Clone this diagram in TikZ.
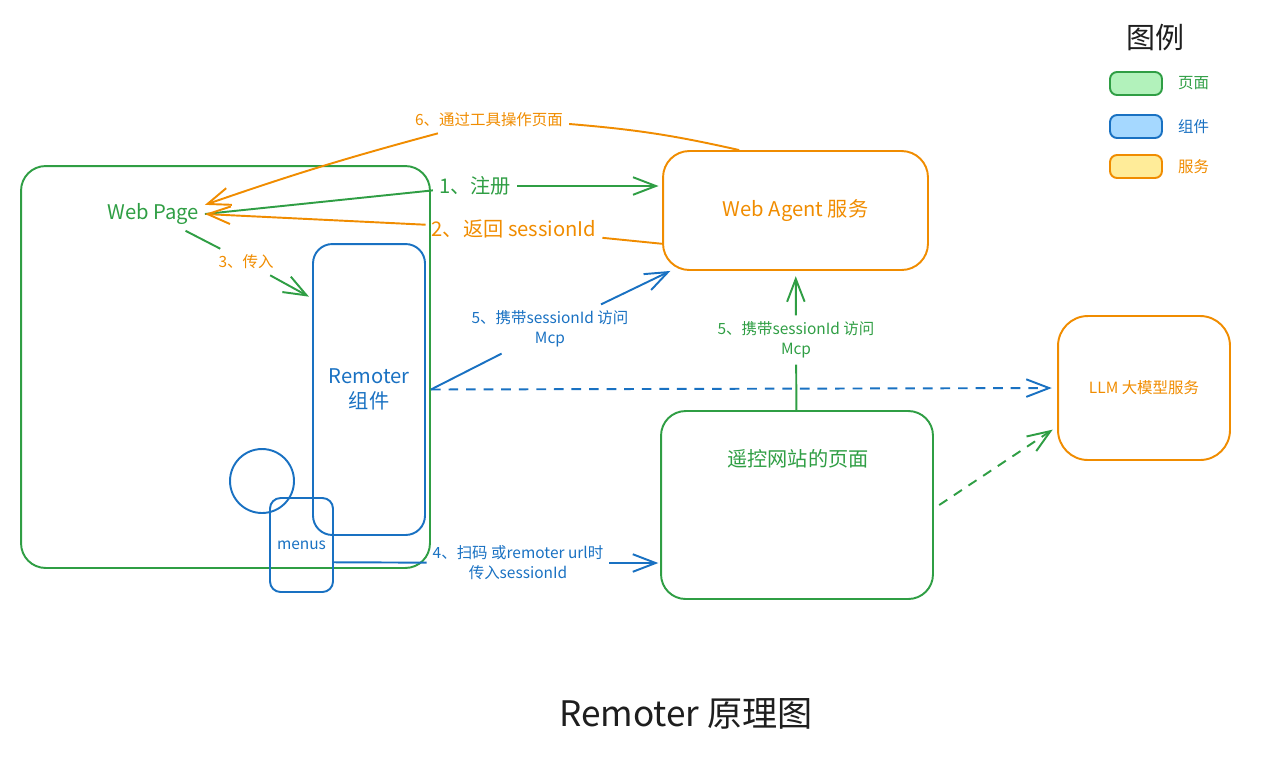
\documentclass[tikz,border=0pt]{standalone}
\usepackage{fontspec}
\setmainfont{Noto Sans CJK SC}
\usetikzlibrary{arrows.meta,positioning}
\definecolor{pgreen}{HTML}{2F9E44}
\definecolor{pblue}{HTML}{1971C2}
\definecolor{porange}{HTML}{F08C00}
\definecolor{pdark}{HTML}{1E1E1E}
\definecolor{lgreen}{HTML}{B2F2BB}
\definecolor{lblue}{HTML}{A5D8FF}
\definecolor{lorange}{HTML}{FFEC99}
\tikzset{
  page/.style={draw=pgreen, text=pgreen, line width=1.1pt, rounded corners=14pt},
  comp/.style={draw=pblue, text=pblue, line width=1.1pt, rounded corners=11pt},
  serv/.style={draw=porange, text=porange, line width=1.1pt, rounded corners=15pt},
  bigtxt/.style={font=\fontsize{11.5}{14}\selectfont},
  smalltxt/.style={font=\fontsize{8.8}{11.5}\selectfont},
  legbox/.style={rounded corners=4pt, minimum width=1.04cm, minimum height=0.46cm},
  glink/.style={draw=pgreen, line width=1.1pt},
  blink/.style={draw=pblue, line width=1.1pt},
  olink/.style={draw=porange, line width=1.1pt},
  arr/.style={-{Straight Barb[length=13pt,width=10pt]}},
  dashline/.style={dash pattern=on 5.5pt off 4.5pt}
}
\begin{document}
\begin{tikzpicture}[x=0.02cm,y=-0.02cm]
\useasboundingbox (0,0) rectangle (1263,765);
\node[page, minimum width=8.18cm, minimum height=8.04cm](wpbox) at (225.5,367){};
\node[text=pgreen, bigtxt](wp) at (153,214){Web Page};
\node[comp, bigtxt, align=center, minimum width=2.24cm, minimum height=5.82cm](rem) at (369,389.5){Remoter\\组件};
\node[comp, circle, minimum size=1.28cm](knob) at (262,481){};
\node[comp, smalltxt, rounded corners=6pt, minimum width=1.26cm, minimum height=1.88cm](menus) at (301.5,545){menus};
\node[serv, bigtxt, minimum width=5.3cm, minimum height=2.38cm](wa) at (795.5,210.5){Web Agent 服务};
\node[serv, smalltxt, rounded corners=17pt, minimum width=3.44cm, minimum height=2.88cm](llm) at (1144,388){LLM 大模型服务};
\node[page, minimum width=5.44cm, minimum height=3.76cm](rc) at (797,505){};
\node[text=pgreen, bigtxt](rctxt) at (798,459){遥控网站的页面};
\node[text=pdark, font=\fontsize{16.5}{20}\selectfont](legtitle) at (1155,38){图例};
\node[page, fill=lgreen, legbox](legpage) at (1136,83.5){};
\node[comp, fill=lblue, legbox](legcomp) at (1136,126.5){};
\node[serv, fill=lorange, legbox](legserv) at (1136,166.5){};
\node[text=pgreen, smalltxt, right=0.18cm of legpage](legpagetxt){页面};
\node[text=pblue, smalltxt, right=0.18cm of legcomp](legcomptxt){组件};
\node[text=porange, smalltxt, right=0.18cm of legserv](legservtxt){服务};
\node[text=pdark, font=\fontsize{20}{24}\selectfont](title) at (686,714){Remoter 原理图};
\node[text=pgreen, bigtxt](l1) at (475,186){1、注册};
\node[text=porange, bigtxt](l2) at (514,229){2、返回 sessionId};
\node[text=porange, smalltxt](l3) at (246,262){3、传入};
\node[text=pblue, smalltxt, align=center](l4) at (518,563){4、扫码 或remoter url时\\传入sessionId};
\node[text=pblue, smalltxt, align=center](l5a) at (550,329){5、携带sessionId 访问\\Mcp};
\node[text=pgreen, smalltxt, align=center](l5b) at (796,340){5、携带sessionId 访问\\Mcp};
\node[text=porange, smalltxt](l6) at (489,120){6、通过工具操作页面};
\draw[glink] (wp.east) -- (l1);
\draw[glink, arr, shorten >=2pt] (l1) -- (l1 -| wa.west);
\draw[olink] (wa.194) -- (l2);
\draw[olink, arr] (l2) -- (wp.east);
\draw[glink] (wp) -- (l3);
\draw[glink, arr, shorten >=2pt] (l3) -- (rem.122);
\draw[blink] (menus.-28) -- (l4);
\draw[blink, arr, shorten >=1pt] (l4) -- (l4 -| rc.west);
\draw[blink] (wpbox.east |- rem.east) -- (l5a);
\draw[blink, arr] (l5a) -- (wa);
\draw[glink] (rc) -- (l5b);
\draw[glink, arr, shorten >=3pt] (l5b) -- (wa);
\draw[blink, dashline, arr, shorten >=3pt] (wpbox.east |- rem.east) -- (llm.west);
\draw[glink, dashline, arr, shorten >=3pt] ([xshift=3pt]rc.east) -- (llm.204);
\draw[olink] (wa.133) to[bend right=4] (l6);
\draw[olink, arr] (l6) to[bend right=2] (wp.10);
\end{tikzpicture}
\end{document}
